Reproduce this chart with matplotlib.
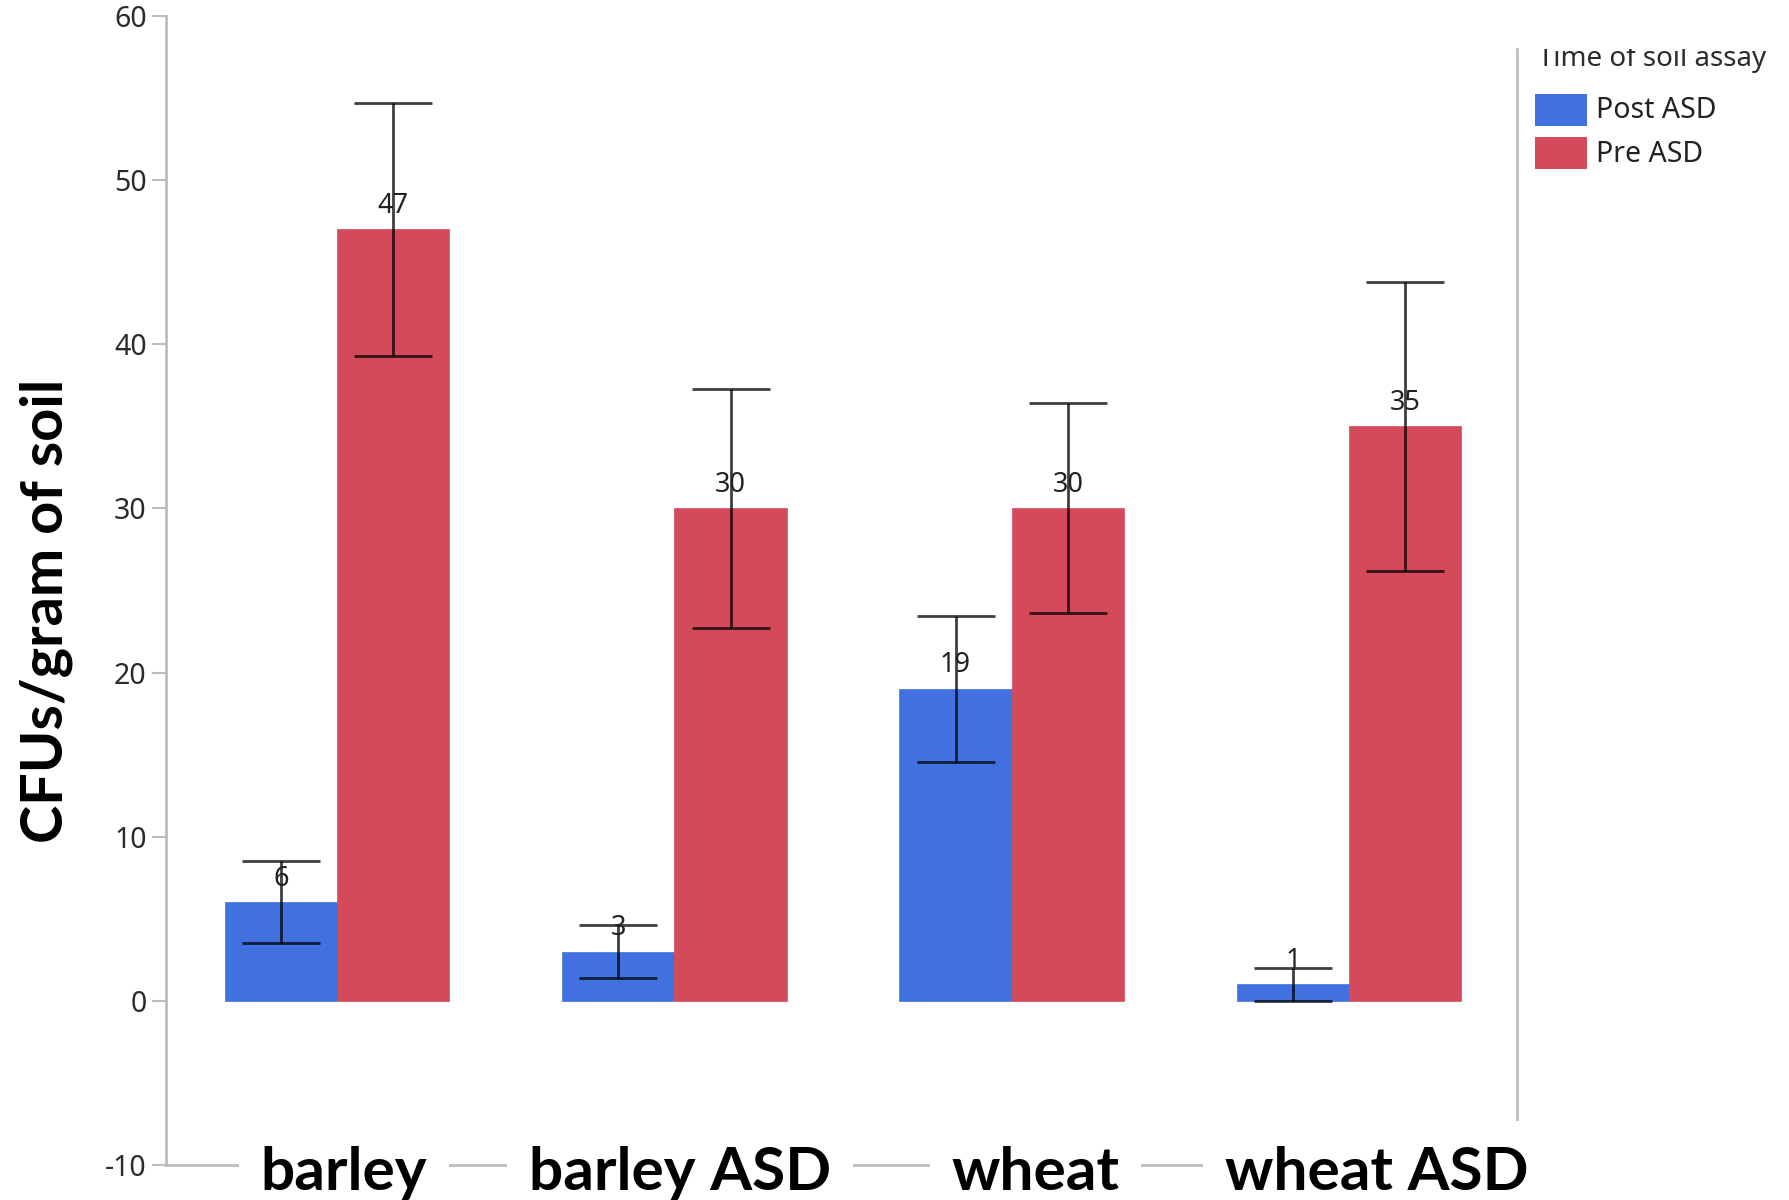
import matplotlib
matplotlib.use("Agg")
import matplotlib.pyplot as plt
import numpy as np
from matplotlib.patches import Rectangle

# data
groups = ["barley", "barley ASD", "wheat", "wheat ASD"]
series = ["Post ASD", "Pre ASD"]
post_asd = [6, 3, 19, 1]
pre_asd = [47, 30, 30, 35]
post_err = [2.5, 1.6, 4.45, 1.0]
pre_err = [7.7, 7.3, 6.4, 8.8]
colors = ["#4171DE", "#D44A5A"]
yticks = [-10, 0, 10, 20, 30, 40, 50, 60]
legend_title = "Time of soil assay"
ylabel = "CFUs/gram of soil"

W, H = 1790, 1200
fig = plt.figure(figsize=(W / 100, H / 100), dpi=100)
ax = fig.add_axes([166 / W, 1 - 1165 / H, (1517 - 166) / W, (1165 - 16) / H])

axis_grey = "#BDBDBD"
text_col = "#2B2B2B"
tick_font = "Noto Sans"
bold_font = "Lato"
# horizontal nudge (points) for the category labels
label_shift = [5, 4, 17, 20]

x = np.arange(len(groups))
w = 0.333
vals = [post_asd, pre_asd]
errs = [post_err, pre_err]
offsets = [-w / 2, w / 2]

for vs, es, off, col in zip(vals, errs, offsets, colors):
    xs = x + off
    ax.bar(xs, vs, width=w, color=col, edgecolor=col, linewidth=0.5, zorder=2)
    ax.errorbar(xs, vs, yerr=es, fmt="none", ecolor=(0, 0, 0, 0.75),
                elinewidth=2.0, capsize=28, capthick=2.0, zorder=3)
    for xi, v in zip(xs, vs):
        ax.annotate(str(v), (xi, v), xytext=(0, 17), textcoords="offset points",
                    ha="center", va="center", fontsize=19.5, color="#222222",
                    family=tick_font, zorder=4)

ax.set_xlim(-0.507, 3.498)
ax.set_ylim(-10, 60)
ax.set_yticks(yticks)
ax.set_yticklabels([str(t) for t in yticks], family=tick_font, fontsize=20.5, color=text_col)
ax.tick_params(axis="y", length=10, width=1.5, color=axis_grey, pad=4)
ax.tick_params(axis="x", length=0, labelbottom=False)
for s in ["top", "right"]:
    ax.spines[s].set_visible(False)
for s in ["left", "bottom"]:
    ax.spines[s].set_color(axis_grey)
    ax.spines[s].set_linewidth(2)

# category labels sit on the bottom axis line
for xi, g, dx in zip(x, groups, label_shift):
    ax.annotate(g, (xi, -10), xytext=(dx, -6), textcoords="offset points",
                ha="center", va="center", fontsize=43.5, fontweight="bold",
                family=bold_font, color="black", annotation_clip=False,
                bbox=dict(boxstyle="square,pad=0.36", fc="white", ec="none"))

fig.text(46 / W, 1 - 611 / H, ylabel, rotation=90, ha="center", va="center",
         fontsize=41.5, fontweight="bold", family=bold_font, color="black")

# legend panel on the right, in pixel units
lax = fig.add_axes([1517 / W, 1 - 1119 / H, (W - 1517) / W, (1119 - 49) / H])
lax.set_xlim(1517, W)
lax.set_ylim(1119, 49)
lax.set_xticks([])
lax.set_yticks([])
for s in ["top", "right", "bottom"]:
    lax.spines[s].set_visible(False)
lax.spines["left"].set_color(axis_grey)
lax.spines["left"].set_linewidth(2)
lax.patch.set_alpha(0)

lax.text(1538, 66, legend_title, ha="left", va="baseline", fontsize=20,
         family=tick_font, color=text_col, clip_on=True)
for i, (name, col) in enumerate(zip(series, colors)):
    top = 94 + i * 43
    lax.add_patch(Rectangle((1535, top), 52, 32, facecolor=col, edgecolor="none"))
    lax.text(1596, top + 17, name, ha="left", va="center", fontsize=20.5,
             family=tick_font, color="#222222")

fig.savefig("out.png", dpi=100)
